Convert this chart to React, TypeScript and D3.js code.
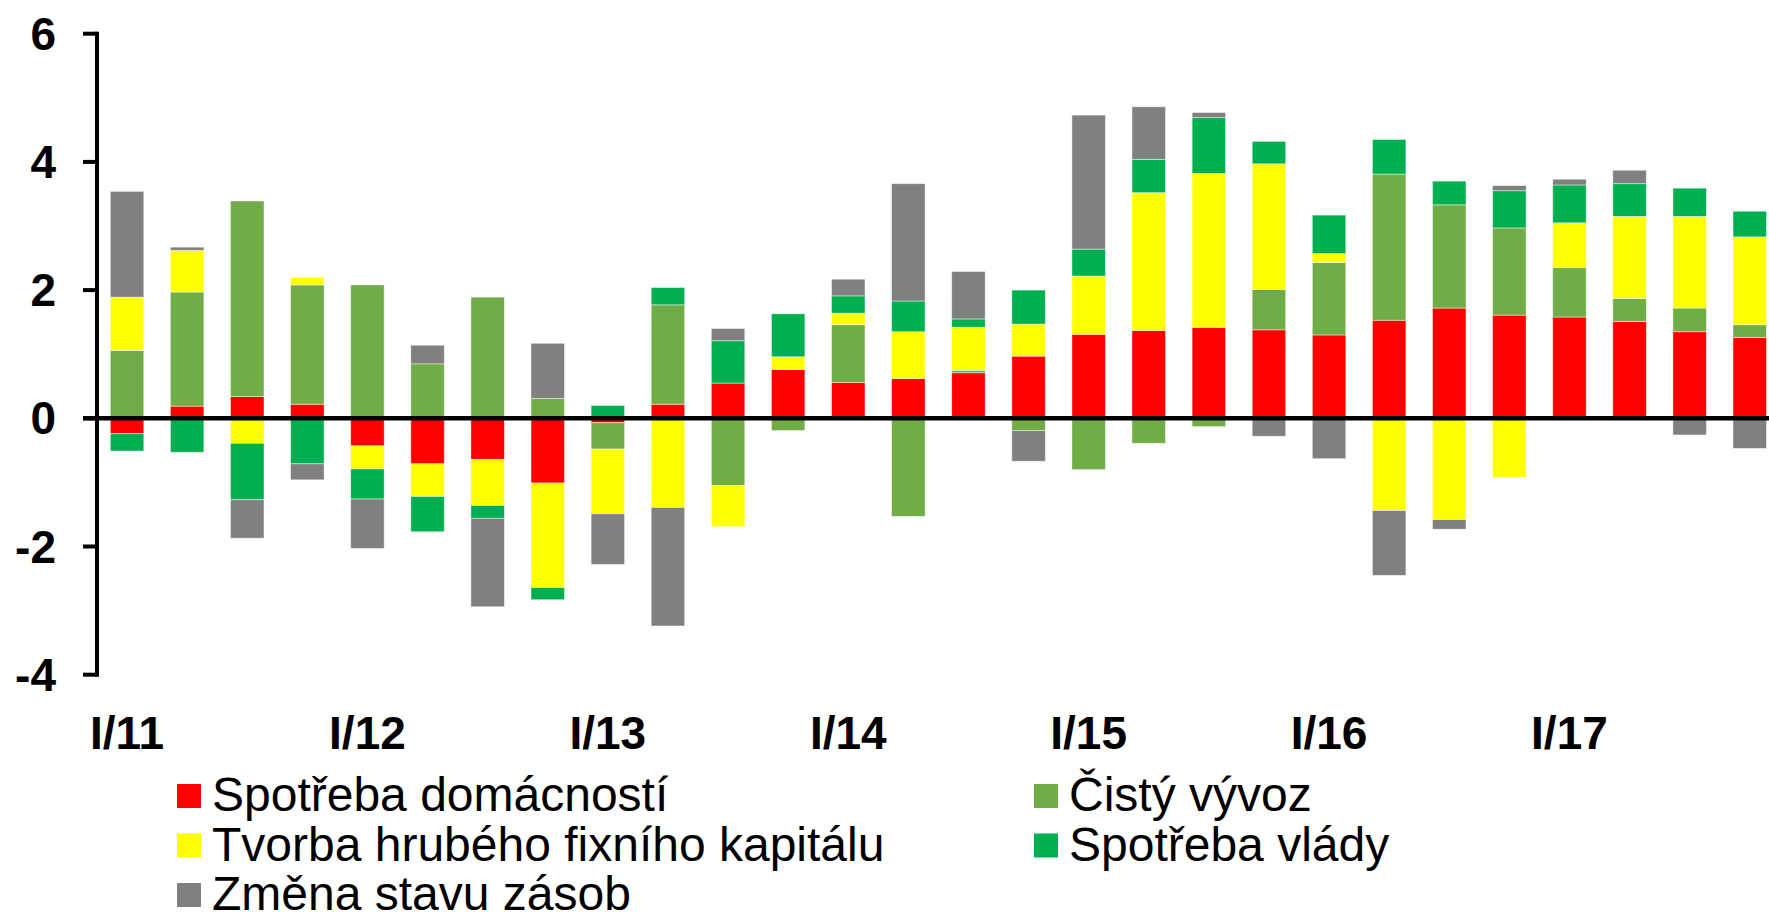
import { useMemo } from 'react';
import * as d3 from 'd3';

const WIDTH = 1769;
const HEIGHT = 912;

const categories = [
  'I/11', 'II/11', 'III/11', 'IV/11',
  'I/12', 'II/12', 'III/12', 'IV/12',
  'I/13', 'II/13', 'III/13', 'IV/13',
  'I/14', 'II/14', 'III/14', 'IV/14',
  'I/15', 'II/15', 'III/15', 'IV/15',
  'I/16', 'II/16', 'III/16', 'IV/16',
  'I/17', 'II/17', 'III/17', 'IV/17',
];

// příspěvky k růstu HDP (p.b.)
const households = [-0.24, 0.19, 0.34, 0.22, -0.43, -0.71, -0.64, -1.01, -0.07, 0.22, 0.55, 0.76, 0.56, 0.62, 0.71, 0.97, 1.31, 1.37, 1.42, 1.38, 1.3, 1.53, 1.72, 1.61, 1.58, 1.51, 1.35, 1.26];
const netExports = [1.06, 1.78, 3.05, 1.86, 2.08, 0.85, 1.89, 0.31, -0.41, 1.55, -1.05, -0.19, 0.9, -1.53, 0.04, -0.19, -0.8, -0.39, -0.13, 0.63, 1.13, 2.28, 1.61, 1.36, 0.77, 0.36, 0.37, 0.2];
const gfcf = [0.83, 0.65, -0.39, 0.12, -0.36, -0.51, -0.72, -1.63, -1.01, -1.39, -0.64, 0.2, 0.18, 0.73, 0.67, 0.5, 0.91, 2.15, 2.4, 1.96, 0.14, -1.44, -1.58, -0.92, 0.7, 1.28, 1.43, 1.37];
const government = [-0.27, -0.53, -0.88, -0.71, -0.47, -0.55, -0.2, -0.19, 0.2, 0.27, 0.66, 0.67, 0.27, 0.48, 0.13, 0.53, 0.42, 0.52, 0.87, 0.35, 0.6, 0.54, 0.37, 0.58, 0.59, 0.51, 0.44, 0.4];
const inventories = [1.65, 0.05, -0.6, -0.25, -0.77, 0.29, -1.38, 0.86, -0.79, -1.85, 0.19, 0, 0.26, 1.83, 0.74, -0.48, 2.09, 0.82, 0.08, -0.28, -0.63, -1.01, -0.15, 0.08, 0.09, 0.21, -0.26, -0.47];

const yTicks = [-4, -2, 0, 2, 4, 6];

const SERIES = [
  { key: 'households', label: 'Spotřeba domácností', color: '#ff0000', values: households },
  { key: 'netExports', label: 'Čistý vývoz', color: '#70ad47', values: netExports },
  { key: 'gfcf', label: 'Tvorba hrubého fixního kapitálu', color: '#ffff00', values: gfcf },
  { key: 'government', label: 'Spotřeba vlády', color: '#00b050', values: government },
  { key: 'inventories', label: 'Změna stavu zásob', color: '#808080', values: inventories },
];

// pořadí položek v legendě (dva sloupce)
const LEGEND_POS = [
  { x: 177, row: 0 },
  { x: 1034, row: 0 },
  { x: 177, row: 1 },
  { x: 1034, row: 1 },
  { x: 177, row: 2 },
];

const AXIS_X = 97;
const STEP = 60.1;
const FONT = 'Arial, "Liberation Sans", Helvetica, sans-serif';

export default function App() {
  const rows = useMemo(
    () =>
      categories.map((c, i) => {
        const r: Record<string, any> = { cat: c };
        SERIES.forEach((s) => (r[s.key] = s.values[i]));
        return r;
      }),
    []
  );

  const stacked = useMemo(
    () =>
      d3
        .stack()
        .keys(SERIES.map((s) => s.key))
        .offset(d3.stackOffsetDiverging)(rows as any),
    [rows]
  );

  const x = d3
    .scaleBand()
    .domain(categories)
    .range([AXIS_X, AXIS_X + STEP * categories.length])
    .paddingInner(0.443)
    .paddingOuter(0.2215);

  const y = d3.scaleLinear().domain([-4, 6]).range([674.7, 33.7]);

  return (
    <>
      <style>{`body{margin:0}`}</style>
      <svg width={WIDTH} height={HEIGHT} style={{ display: 'block', fontFamily: FONT }}>
        {stacked.map((layer, si) => (
          <g key={layer.key} fill={SERIES[si].color}>
            {layer.map((d, i) => {
              const y0 = y(d[0]);
              const y1 = y(d[1]);
              if (Math.abs(y1 - y0) < 0.01) return null;
              return (
                <rect
                  key={categories[i]}
                  x={x(categories[i])}
                  y={Math.min(y0, y1)}
                  width={x.bandwidth()}
                  height={Math.abs(y1 - y0)}
                  stroke="#ffffff"
                  strokeOpacity={0.55}
                  strokeWidth={0.8}
                />
              );
            })}
          </g>
        ))}

        {/* osa y */}
        <line x1={AXIS_X} x2={AXIS_X} y1={y(6) - 2} y2={y(-4) + 2} stroke="#000" strokeWidth={4} />
        {yTicks.map((t) => (
          <g key={t}>
            <line x1={83} x2={AXIS_X} y1={y(t)} y2={y(t)} stroke="#000" strokeWidth={4} />
            <text
              x={56}
              y={y(t) + 16}
              textAnchor="end"
              fontSize={46}
              fontWeight="bold"
              fill="#000"
            >
              {t}
            </text>
          </g>
        ))}

        {/* nulová linie */}
        <line x1={83} x2={WIDTH} y1={y(0)} y2={y(0)} stroke="#000" strokeWidth={4.5} />

        {/* popisky kvartálů */}
        {categories
          .filter((c) => c.startsWith('I/'))
          .map((c) => (
            <text
              key={c}
              x={(x(c) ?? 0) + x.bandwidth() / 2}
              y={749}
              textAnchor="middle"
              fontSize={46}
              fontWeight="bold"
              fill="#000"
            >
              {c}
            </text>
          ))}

        {/* legenda */}
        {SERIES.map((s, i) => {
          const p = LEGEND_POS[i];
          const cy = 796 + p.row * 49.5;
          return (
            <g key={s.key}>
              <rect x={p.x} y={cy - 12} width={24} height={24} fill={s.color} />
              <text x={p.x + 35} y={cy + 15} fontSize={48} fill="#000">
                {s.label}
              </text>
            </g>
          );
        })}
      </svg>
    </>
  );
}
